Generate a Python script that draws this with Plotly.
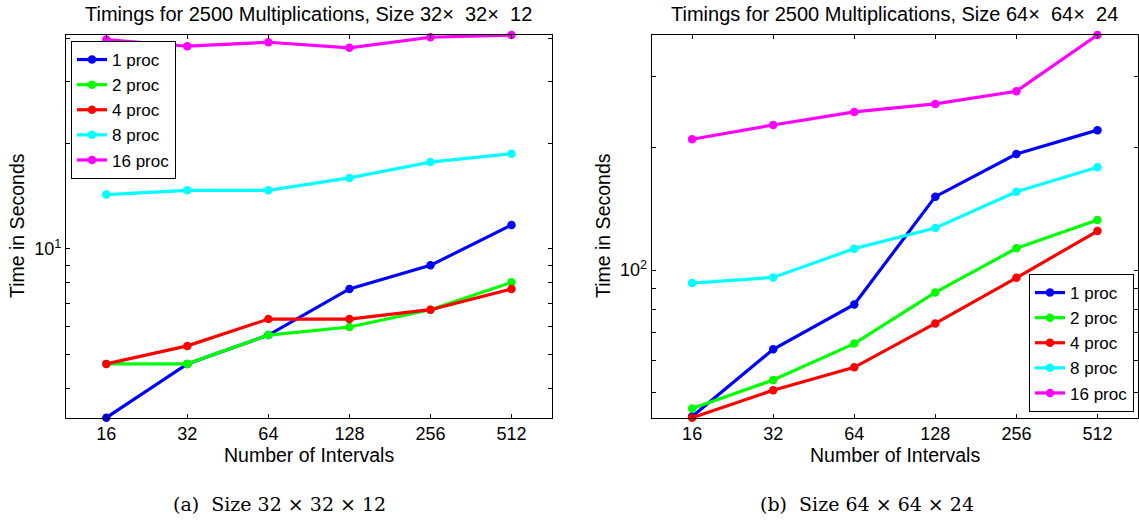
import math
import plotly.graph_objects as go

# Number of intervals (x) and timings in seconds for each processor count
intervals = [16, 32, 64, 128, 256, 512]
interval_labels = ["16", "32", "64", "128", "256", "512"]
series_names = ["1 proc", "2 proc", "4 proc", "8 proc", "16 proc"]
series_colors = ["#0000ff", "#00ff00", "#ff0000", "#00ffff", "#ff00ff"]

# Size 32 x 32 x 12
small_1 = [3.30, 4.70, 5.68, 7.69, 8.98, 11.7]
small_2 = [4.70, 4.70, 5.68, 5.99, 6.71, 8.03]
small_4 = [4.70, 5.29, 6.31, 6.31, 6.71, 7.69]
small_8 = [14.3, 14.7, 14.7, 15.95, 17.7, 18.7]
small_16 = [39.6, 37.9, 38.9, 37.5, 40.2, 40.8]

# Size 64 x 64 x 24
large_1 = [43.6, 63.8, 82.3, 151.6, 193.0, 221.0]
large_2 = [45.6, 53.6, 65.9, 88.1, 113.1, 132.8]
large_4 = [43.3, 50.6, 57.6, 73.9, 95.7, 124.7]
large_8 = [92.9, 95.9, 112.9, 126.9, 155.9, 179.0]
large_16 = [209.9, 227.6, 245.0, 256.4, 275.5, 379.0]

small_series = [small_1, small_2, small_4, small_8, small_16]
large_series = [large_1, large_2, large_4, large_8, large_16]

titles = [
    "Timings for 2500 Multiplications, Size 32\u00d7  32\u00d7  12",
    "Timings for 2500 Multiplications, Size 64\u00d7  64\u00d7  24",
]
captions = ["(a)  Size 32 \u00d7 32 \u00d7 12", "(b)  Size 64 \u00d7 64 \u00d7 24"]
y_title = "Time in Seconds"
x_title = "Number of Intervals"

W, H = 1139, 521
FONT = "Liberation Sans, Arial, Helvetica, sans-serif"
SERIF = "DejaVu Serif, Liberation Serif, serif"


def px_x(p):
    return p / W


def px_y(p):
    return 1 - p / H


x_domains = [[px_x(65.8), px_x(552)], [px_x(651.6), px_x(1138)]]
y_domain = [px_y(417.7), px_y(35)]

fig = go.Figure()

for k, (group, legend_id) in enumerate([(small_series, "legend"), (large_series, "legend2")]):
    xa = "x" if k == 0 else "x2"
    ya = "y" if k == 0 else "y2"
    for name, color, vals in zip(series_names, series_colors, group):
        fig.add_trace(go.Scatter(
            x=intervals, y=vals, name=name, mode="lines+markers",
            line=dict(color=color, width=3.2),
            marker=dict(color=color, size=8.5),
            xaxis=xa, yaxis=ya, legend=legend_id, cliponaxis=False,
        ))


def log_range_x():
    step = math.log10(2)
    return [math.log10(intervals[0]) - step / 2, math.log10(intervals[-1]) + step / 2]


def minor_log_ticks(lo, hi):
    vals = []
    for dec in range(math.floor(math.log10(lo)), math.ceil(math.log10(hi)) + 1):
        for m in range(2, 10):
            v = m * 10 ** dec
            if lo <= v <= hi:
                vals.append(v)
    return vals


axis_common = dict(
    showline=True, linecolor="black", linewidth=1, mirror="ticks",
    ticks="inside", ticklen=4, tickcolor="black", tickwidth=1,
    showgrid=False, zeroline=False,
    tickfont=dict(family=FONT, size=18, color="black"),
)

layout_axes = {}
for k, group in enumerate([small_series, large_series]):
    lo = min(min(s) for s in group)
    hi = max(max(s) for s in group)
    decade = 10 ** math.ceil(math.log10(lo))
    exp = int(round(math.log10(decade)))
    xname = "xaxis" if k == 0 else "xaxis2"
    yname = "yaxis" if k == 0 else "yaxis2"
    layout_axes[xname] = dict(
        axis_common, type="log", domain=x_domains[k], range=log_range_x(),
        tickvals=intervals, ticktext=interval_labels,
        anchor="y" if k == 0 else "y2",
    )
    layout_axes[yname] = dict(
        axis_common, type="log", domain=y_domain,
        range=[math.log10(lo), math.log10(hi)],
        tickvals=[decade], ticktext=[f"10<sup>{exp}</sup>"],
        minor=dict(tickvals=minor_log_ticks(lo, hi), ticks="inside",
                   ticklen=4, tickcolor="black"),
        anchor="x" if k == 0 else "x2",
    )

annotations = []
plot_centers = [(65.8 + 552) / 2, (651.6 + 1138) / 2]
caption_centers = [279, 867]
ytitle_x = [17, 603]
for k in range(2):
    annotations.append(dict(
        text=titles[k], x=px_x(plot_centers[k]), y=px_y(13.5), xref="paper", yref="paper",
        xanchor="center", yanchor="middle", showarrow=False,
        font=dict(family=FONT, size=20, color="black"),
    ))
    annotations.append(dict(
        text=x_title, x=px_x(plot_centers[k]), y=px_y(455), xref="paper", yref="paper",
        xanchor="center", yanchor="middle", showarrow=False,
        font=dict(family=FONT, size=19.5, color="black"),
    ))
    annotations.append(dict(
        text=y_title, x=px_x(ytitle_x[k]), y=px_y(226), xref="paper", yref="paper",
        xanchor="center", yanchor="middle", showarrow=False, textangle=-90,
        font=dict(family=FONT, size=19.5, color="black"),
    ))
    annotations.append(dict(
        text=captions[k], x=px_x(caption_centers[k]), y=px_y(504), xref="paper", yref="paper",
        xanchor="center", yanchor="middle", showarrow=False,
        font=dict(family=SERIF, size=19, color="black"),
    ))

legend_style = dict(
    bgcolor="white", bordercolor="black", borderwidth=1,
    font=dict(family=FONT, size=17, color="black"),
    itemwidth=30, tracegroupgap=0,
)

fig.update_layout(
    width=W, height=H, autosize=False,
    margin=dict(l=0, r=0, t=0, b=0),
    paper_bgcolor="white", plot_bgcolor="white",
    showlegend=True,
    legend=dict(legend_style, x=px_x(71), y=px_y(41), xanchor="left", yanchor="top"),
    legend2=dict(legend_style, x=px_x(1134), y=px_y(412), xanchor="right", yanchor="bottom"),
    annotations=annotations,
    **layout_axes,
)

fig.write_html("out.html")
